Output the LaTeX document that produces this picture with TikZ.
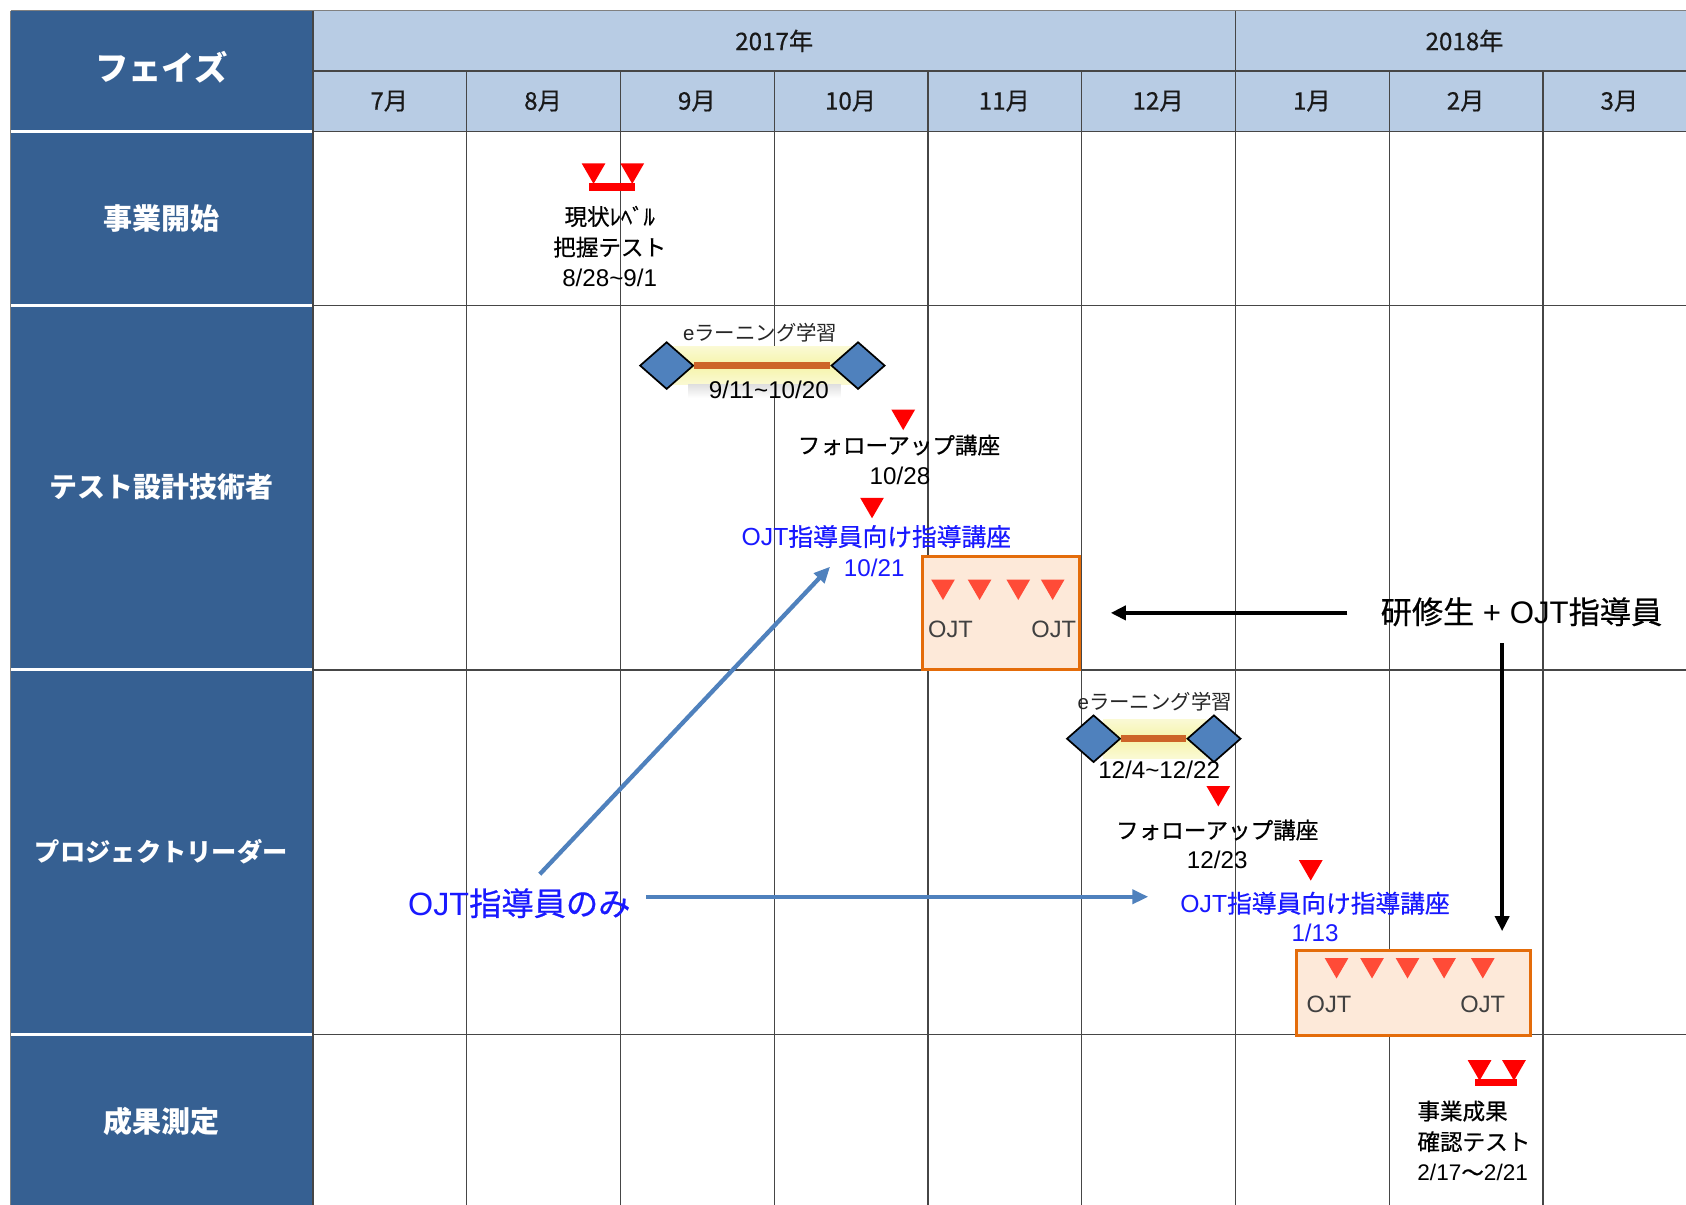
\documentclass[tikz,border=0pt]{standalone}
\usepackage{fontspec}
\setmainfont{Noto Sans CJK JP}
\newfontfamily\ar{Liberation Sans}
\newfontfamily\jpm[FakeBold=0.6]{Noto Sans CJK JP}
\usetikzlibrary{arrows.meta,shapes.geometric}
\definecolor{navy}{RGB}{54,96,146}
\definecolor{hdrblue}{RGB}{184,204,228}
\definecolor{gridc}{RGB}{70,70,70}
\definecolor{diablue}{RGB}{79,129,189}
\definecolor{barbrown}{RGB}{205,100,40}
\definecolor{ojtorange}{RGB}{228,108,10}
\definecolor{ojtfill}{RGB}{253,233,217}
\definecolor{ojtred}{RGB}{255,75,55}
\definecolor{arrowblue}{RGB}{79,129,189}
\definecolor{txtblue}{RGB}{25,25,255}
\definecolor{glowy}{RGB}{246,244,170}
\newcommand\dtri[3]{\fill[#3] ({#1-11},{#2}) -- ({#1+11},{#2}) -- ({#1},{#2+19}) -- cycle;}
\begin{document}
\begin{tikzpicture}[x=1pt,y=-1pt,
  gridline/.style={draw=gridc, line width=1.2},
  hdr/.style={font=\jpm\fontsize{22.5}{25}\selectfont, text=black!90, inner sep=0},
  rowlab/.style={font=\bfseries\fontsize{26}{30}\selectfont, text=white, inner sep=0},
  txt/.style={font=\jpm\fontsize{21}{28.5}\selectfont, text=black, inner sep=0, align=center},
  smalltxt/.style={font=\fontsize{19}{22}\selectfont, text=black!85, inner sep=0},
  datetxt/.style={font=\ar\fontsize{22.5}{25}\selectfont, text=black, inner sep=0},
  bluetxt/.style={txt, font=\jpm\fontsize{23}{28.5}\selectfont, text=txtblue},
  bluedate/.style={datetxt, text=txtblue},
  ojtlab/.style={font=\ar\fontsize{22}{25}\selectfont, text=black!75, inner sep=0},
  ojtbox/.style={draw=ojtorange, fill=ojtfill, line width=2.6, inner sep=0},
  dia/.style={diamond, draw=black, fill=diablue, line width=1.6, minimum width=50, minimum height=44, inner sep=0},
  barline/.style={draw=barbrown, line width=6},
  blkarrow/.style={draw=black, line width=3.5, -{Triangle[length=14pt,width=13pt]}},
  bluearrow/.style={draw=arrowblue, line width=4, -{Triangle[length=15pt,width=13pt]}},
  bigtxt/.style={font=\jpm\fontsize{29}{32}\selectfont, text=black, inner sep=0}
]
\useasboundingbox (0,0) rectangle (1568,1120);
\fill[white] (0,0) rectangle (1568,1120);
% backgrounds
\fill[navy] (10,10) rectangle (291,1130);
\fill[hdrblue] (291,10) rectangle (1590,122);
% grid
\draw[gridline, draw=gray] (10,10) -- (1590,10);
\draw[gridline, draw=gray] (10,10) -- (10,1130);
\draw[gridline] (291,66) -- (1590,66);
\foreach \yy in {122,284,623,962}{
  \draw[gridline] (291,\yy) -- (1590,\yy);
  \draw[white, line width=2.6] (10,\yy) -- (291,\yy);
}
\draw[gridline] (291,10) -- (291,1130);
\draw[gridline] (1149,10) -- (1149,1130);
\foreach \xx in {434,577,720,863,1006,1292,1435}{
  \draw[gridline] (\xx,66) -- (\xx,1130);
}
% header texts
\node[font=\bfseries\fontsize{31}{34}\selectfont, text=white, inner sep=0] (phase) at (150,63) {フェイズ};
\node[hdr] (y2017) at (720,38) {2017年};
\node[hdr] (y2018) at (1362,38) {2018年};
\node[hdr] (m7) at (362,94) {7月};
\node[hdr] (m8) at (505,94) {8月};
\node[hdr] (m9) at (648,94) {9月};
\node[hdr] (m10) at (791,94) {10月};
\node[hdr] (m11) at (934,94) {11月};
\node[hdr] (m12) at (1077,94) {12月};
\node[hdr] (m1) at (1220,94) {1月};
\node[hdr] (m2) at (1363,94) {2月};
\node[hdr] (m3) at (1506,94) {3月};
% row labels
\node[rowlab, font=\bfseries\fontsize{27}{30}\selectfont] (r1) at (150,203) {事業開始};
\node[rowlab] (r2) at (150,453) {テスト設計技術者};
\node[rowlab, font=\bfseries\fontsize{23.5}{28}\selectfont] (r3) at (150,792) {プロジェクトリーダー};
\node[rowlab, font=\bfseries\fontsize{27}{30}\selectfont] (r4) at (150,1043) {成果測定};
% ---- 事業開始
\dtri{552}{152}{red}
\dtri{588}{152}{red}
\fill[red] (548,170) rectangle (591,178);
\node[txt] (genjo) at (567,229) {現状ﾚﾍﾞﾙ\\把握テスト\\{\ar\fontsize{22.5}{28.5}\selectfont 8/28\textasciitilde 9/1}};
% ---- テスト設計技術者
\shade[top color=glowy!50, bottom color=glowy!50, middle color=glowy] (623,322) rectangle (800,358);
\shade[top color=black!12, bottom color=white] (640,358) rectangle (782,370);
\node[dia] (dA1) at (620,340) {};
\node[dia] (dA2) at (798,340) {};
\draw[barline] (dA1) -- (dA2);
\node[smalltxt] (elA) at (707,309) {{\ar e}ラーニング学習};
\node[datetxt] (dateA) at (715,363) {9/11\textasciitilde 10/20};
\dtri{840}{381}{red}
\node[txt] (fuA) at (836,414) {フォローアップ講座};
\node[datetxt] (fdA) at (837,443) {10/28};
\dtri{811}{463}{red}
\node[bluetxt] (ojtA) at (815,499) {{\ar OJT}指導員向け指導講座};
\node[bluedate] (ojtdA) at (813,528) {10/21};
\node[ojtbox, minimum width=146, minimum height=105] (boxA) at (931,570) {};
\dtri{877}{539}{ojtred}
\dtri{911}{539}{ojtred}
\dtri{947}{539}{ojtred}
\dtri{979}{539}{ojtred}
\node[ojtlab] (ojtA1) at (884,585) {OJT};
\node[ojtlab] (ojtA2) at (980,585) {OJT};
\node[bigtxt] (kensyu) at (1415,569) {研修生{\ar\ + OJT}指導員};
\coordinate (kA) at (1253,570);
\coordinate (kB) at (1033,570);
\draw[blkarrow] (kA) -- (kB);
\coordinate (kC) at (1397,598);
\coordinate (kD) at (1397,866);
\draw[blkarrow] (kC) -- (kD);
% ---- プロジェクトリーダー
\shade[top color=glowy!50, bottom color=glowy!50, middle color=glowy] (1026,669) rectangle (1122,705);
\node[dia] (dB1) at (1017,687) {};
\node[dia] (dB2) at (1129,687) {};
\draw[barline] (dB1) -- (dB2);
\node[smalltxt] (elB) at (1074,653) {{\ar e}ラーニング学習};
\node[datetxt] (dateB) at (1078,716) {12/4\textasciitilde 12/22};
\dtri{1133}{731}{red}
\node[txt] (fuB) at (1132,772) {フォローアップ講座};
\node[datetxt] (fdB) at (1132,800) {12/23};
\dtri{1219}{800}{red}
\node[bluetxt] (ojtB) at (1223,840) {{\ar OJT}指導員向け指導講座};
\node[bluedate] (ojtdB) at (1223,868) {1/13};
\node[ojtbox, minimum width=217, minimum height=79] (boxB) at (1314.5,923.5) {};
\dtri{1243}{891}{ojtred}
\dtri{1276}{891}{ojtred}
\dtri{1309}{891}{ojtred}
\dtri{1343}{891}{ojtred}
\dtri{1379}{891}{ojtred}
\node[ojtlab] (ojtB1) at (1236,934) {OJT};
\node[ojtlab] (ojtB2) at (1379,934) {OJT};
\node[bigtxt, text=txtblue, font=\jpm\fontsize{30}{32}\selectfont] (only) at (483,840) {{\ar OJT}指導員のみ};
\coordinate (bA) at (502,813);
\coordinate (bB) at (772,527);
\draw[bluearrow] (bA) -- (bB);
\coordinate (bC) at (601,834);
\coordinate (bD) at (1068,834);
\draw[bluearrow] (bC) -- (bD);
% ---- 成果測定
\dtri{1376}{986}{red}
\dtri{1408}{986}{red}
\fill[red] (1372,1003) rectangle (1411,1010);
\node[txt, align=left, anchor=west] (seika) at (1318,1061) {事業成果\\確認テスト\\{\ar 2/17}～{\ar 2/21}};
\end{tikzpicture}
\end{document}
